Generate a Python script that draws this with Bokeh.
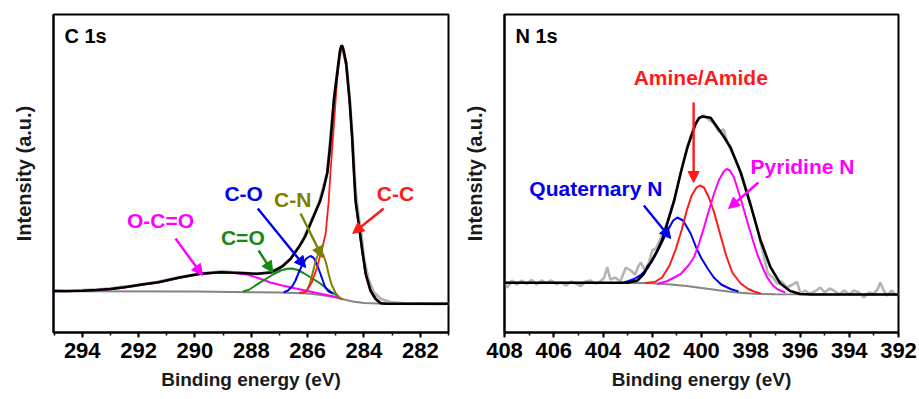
from bokeh.plotting import figure
from bokeh.layouts import row
from bokeh.models import Range1d, SingleIntervalTicker, FixedTicker, Label, Arrow, NormalHead
from bokeh.embed import file_html
from bokeh.resources import INLINE

# ---------------- C 1s data (binding energy eV, intensity a.u.) ----------------
c1s_raw_x = [295.0, 294.6, 294.2, 293.8, 293.4, 293.0, 292.6, 292.2, 291.8, 291.4, 291.0, 290.6,
             290.2, 289.8, 289.4, 289.0, 288.6, 288.2, 287.8, 287.4, 287.0, 286.6, 286.2, 285.9,
             285.6, 285.3, 285.07, 284.93, 284.8, 284.63, 284.51, 284.42, 284.3, 284.2, 284.1,
             284.0, 283.84, 283.66, 283.41, 283.06, 282.47, 282.0, 281.5, 281.0]
c1s_raw_y = [42, 41, 42, 42.5, 43, 44, 45.5, 46.5, 48.5, 50, 52.5, 55,
             57, 59, 60, 61, 60, 59.5, 58.5, 60, 64, 74, 90, 110,
             129, 160, 232, 264, 287, 269, 234, 199, 142, 117, 99,
             74, 53, 40.5, 33.7, 30.3, 28.7, 29, 28.5, 28.7]

c1s_bg_x = [295.0, 290.0, 288.0, 287.0, 286.0, 285.5, 285.0, 284.7, 284.4, 284.0, 283.5, 281.0]
c1s_bg_y = [41.3, 41, 40.3, 40, 39, 37.5, 35, 33, 31, 29.5, 29, 28.7]

c1s_env_x = [295.0, 294.0, 293.5, 293.0, 292.5, 292.0, 291.3, 290.5, 289.8, 289.1, 288.4, 287.8,
             287.3, 286.9, 286.6, 286.3, 286.1, 285.85, 285.55, 285.43, 285.3, 285.2, 285.07,
             284.93, 284.85, 284.8, 284.76, 284.72, 284.63, 284.51, 284.42, 284.36, 284.3, 284.19,
             284.06, 283.94, 283.77, 283.59, 283.41, 283.2, 281.0]
c1s_env_y = [41.5, 41.7, 42.5, 43.5, 45.3, 47.5, 50.3, 55.3, 58.7, 60.3, 59.5, 58.7,
             60, 66, 73.7, 86, 95.3, 112, 132, 144, 160, 187, 232,
             264, 282, 287, 286, 282, 269, 232, 195, 162, 132, 109,
             82, 59, 42, 33.7, 29.3, 28.7, 28.7]

cc_x = [286.3, 286.07, 285.85, 285.67, 285.5, 285.36, 285.25, 285.19, 285.07, 284.95, 284.87,
        284.8, 284.72, 284.63, 284.51, 284.42, 284.36, 284.3, 284.19, 284.06, 283.94, 283.77,
        283.59, 283.41, 283.2]
cc_y = [39.5, 40.5, 50, 65, 82, 99, 132, 160, 207, 254, 277,
        285, 279, 266, 230, 194, 162, 132, 107, 80, 57, 41,
        33, 29.3, 28.7]

cn_x = [286.1, 286.0, 285.9, 285.8, 285.7, 285.6, 285.55, 285.45, 285.35, 285.25, 285.15, 285.0, 284.85, 284.75]
cn_y = [40, 43, 51, 62, 73, 80, 81, 78, 70, 58, 48, 39, 34.5, 33]

co_x = [286.85, 286.7, 286.55, 286.43, 286.3, 286.2, 286.05, 285.9, 285.8, 285.73, 285.64, 285.55,
        285.45, 285.37, 285.25, 285.1]
co_y = [40, 42, 46, 52, 61, 67, 74, 76.5, 75, 72, 66, 59, 51, 45, 41, 39]

cdo_x = [288.3, 288.1, 287.9, 287.67, 287.4, 287.2, 286.95, 286.72, 286.55, 286.35, 286.15, 286.0,
         285.8, 285.55, 285.3, 285.08, 284.9]
cdo_y = [41, 42.5, 46, 50.3, 55, 58.5, 62, 63.7, 64, 62.5, 59.5, 57, 53.5, 49, 43.5, 39, 36]

oco_x = [295.0, 294.0, 293.0, 292.5, 292.0, 291.3, 290.5, 289.8, 289.1, 288.6, 288.15, 287.7,
         287.32, 286.9, 286.5, 286.0, 285.5, 285.07, 284.8]
oco_y = [41.3, 41.5, 43.2, 45, 47.2, 50, 55, 58.4, 60, 59.5, 58, 54, 50, 47, 44.5, 41.5, 38.5, 36, 34]

# ---------------- N 1s data ----------------
n1s_raw_x = [408.0, 407.88, 407.7, 407.5, 407.3, 407.1, 406.9, 406.7, 406.5, 406.3, 406.1, 405.9,
             405.7, 405.5, 405.3, 405.1, 404.9, 404.7, 404.5, 404.3, 404.1, 403.95, 403.83, 403.7,
             403.5, 403.3, 403.07, 402.87, 402.7, 402.55, 402.46, 402.3, 402.15, 402.0, 401.85,
             401.7, 401.5, 401.3, 401.1, 400.9, 400.7, 400.5, 400.3, 400.1, 399.9, 399.7, 399.5,
             399.3, 399.1, 398.95, 398.8, 398.6, 398.4, 398.2, 398.0, 397.8, 397.6, 397.45, 397.3,
             397.1, 396.93, 396.75, 396.52, 396.3, 396.12, 395.98, 395.8, 395.6, 395.4, 395.17,
             395.0, 394.8, 394.63, 394.4, 394.2, 394.0, 393.82, 393.6, 393.42, 393.2, 393.0,
             392.85, 392.74, 392.6, 392.47, 392.27, 392.1, 392.0]
n1s_raw_y = [49, 45, 52, 48, 52, 48.5, 52.5, 48, 52, 49.5, 52, 48.5,
             50, 47, 51, 49, 46.5, 51, 52, 49, 51, 55, 65.3, 53,
             55, 51, 65, 62, 58, 67, 70, 62, 69, 82, 84,
             92, 102, 117, 133, 154, 174, 192, 206, 214, 217, 213, 209,
             201, 203, 190, 182, 172, 160, 144, 127, 110, 90, 74, 59,
             55, 49, 51, 45, 48, 50.5, 39, 42, 39, 41, 45,
             40, 44, 42, 38, 42, 38, 42, 40, 35, 40, 39,
             43, 50, 42, 37, 42, 37, 39]

n1s_bg_x = [408.0, 402.5, 402.0, 401.25, 400.6, 400.0, 399.3, 398.68, 397.87, 397.0, 392.0]
n1s_bg_y = [49.7, 49.6, 49.2, 48, 46.5, 44.5, 42.2, 40.3, 38.7, 38.2, 38]

n1s_env_x = [408.0, 403.0, 402.6, 402.33, 402.19, 402.06, 401.79, 401.59, 401.11, 400.84, 400.57,
             400.24, 400.1, 399.96, 399.63, 399.36, 399.1, 398.82, 398.41, 398.0, 397.6, 397.2,
             396.8, 396.4, 396.0, 395.5, 392.0]
n1s_env_y = [49.7, 49.7, 52, 59, 66, 70, 82, 93, 132, 160, 185.3,
             208.7, 214.5, 216, 214.7, 205.3, 196, 185, 160, 127, 92, 65.3,
             49, 41.5, 38.5, 38, 38]

amine_x = [402.3, 401.9, 401.6, 401.3, 401.05, 400.8, 400.6, 400.4, 400.2, 400.07, 399.9, 399.7,
           399.5, 399.25, 399.0, 398.75, 398.41, 398.1, 397.87, 397.6]
amine_y = [49.5, 50.5, 55, 67, 83, 103, 122, 137, 145, 147, 145, 135,
           121, 99, 77, 60, 49, 43.5, 41, 39]

quat_x = [403.2, 402.73, 402.45, 402.19, 401.9, 401.65, 401.4, 401.15, 400.98, 400.75, 400.44,
          400.2, 400.0, 399.75, 399.5, 399.2, 398.82, 398.5]
quat_y = [49.5, 53.5, 58, 64, 76, 88, 101, 112, 115, 112, 99,
          84, 74, 64, 55, 48, 43.5, 41]

pyr_x = [401.8, 401.38, 400.84, 400.5, 400.3, 400.1, 399.9, 399.7, 399.5, 399.3, 399.1, 398.98,
         398.85, 398.68, 398.41, 398.2, 398.07, 397.9, 397.74, 397.5, 397.33, 397.1, 396.9, 396.6]
pyr_y = [48.5, 51.5, 58.5, 68, 75.5, 89, 105, 122, 138, 152, 161, 163.5,
         162, 155, 134, 116, 105, 91, 78.5, 64, 55, 47, 43, 40]

FONT = "Liberation Sans"
RED = "#ff1a1a"
OLIVE = "#808000"
BLUE = "#0000ee"
GREEN = "#138a13"
MAGENTA = "#ff00ff"
RAW = "#b4b4b4"
BG = "#858585"


def make_panel(xr, border_left, border_right, title):
    p = figure(width=border_left + 395 + border_right, height=399,
               x_range=Range1d(*xr), y_range=Range1d(0, 318),
               output_backend="svg", toolbar_location=None,
               min_border_left=border_left, min_border_right=border_right,
               min_border_top=14, min_border_bottom=67)
    p.grid.visible = False
    p.outline_line_color = "black"
    p.outline_line_width = 2
    p.background_fill_color = "white"
    p.border_fill_color = "white"

    xa = p.xaxis[0]
    xa.ticker = SingleIntervalTicker(interval=2, num_minor_ticks=2)
    xa.axis_line_width = 2
    xa.major_tick_line_width = 2
    xa.minor_tick_line_width = 1.5
    xa.major_tick_in = 0
    xa.major_tick_out = 5
    xa.minor_tick_in = 0
    xa.minor_tick_out = 3
    xa.major_label_text_font = FONT
    xa.major_label_text_font_style = "bold"
    xa.major_label_text_font_size = "22px"
    xa.major_label_text_color = "black"
    xa.major_label_standoff = 5
    xa.axis_label = "Binding energy (eV)"
    xa.axis_label_text_font = FONT
    xa.axis_label_text_font_style = "bold"
    xa.axis_label_text_font_size = "19px"
    xa.axis_label_text_color = "#1a1a1a"
    xa.axis_label_standoff = 8

    ya = p.yaxis[0]
    ya.ticker = FixedTicker(ticks=[])
    ya.axis_line_width = 2
    ya.major_tick_line_color = None
    ya.minor_tick_line_color = None
    ya.major_label_text_font_size = "0px"
    ya.axis_label = "Intensity (a.u.)"
    ya.axis_label_text_font = FONT
    ya.axis_label_text_font_style = "bold"
    ya.axis_label_text_font_size = "20px"
    ya.axis_label_text_color = "#1a1a1a"
    ya.axis_label_standoff = 19

    p.add_layout(Label(x=xr[0], y=297, x_offset=11, text=title, text_font=FONT,
                       text_font_style="bold", text_font_size="20px",
                       text_color="black", text_baseline="middle", text_align="left"))
    return p


def add_note(p, text, color, tx, ty, xs, ys, xe, ye):
    p.add_layout(Label(x=tx, y=ty, text=text, text_font=FONT, text_font_style="bold",
                       text_font_size="21px", text_color=color,
                       text_align="center", text_baseline="middle"))
    p.add_layout(Arrow(end=NormalHead(size=11, fill_color=color, line_color=color, line_width=1),
                       x_start=xs, y_start=ys, x_end=xe, y_end=ye,
                       line_color=color, line_width=2.4))


# ---------------- left panel ----------------
p1 = make_panel((295.02, 281.0), 53, 12, "C 1s")
p1.line(c1s_raw_x, c1s_raw_y, line_color=RAW, line_width=3)
p1.line(c1s_bg_x, c1s_bg_y, line_color=BG, line_width=2)
p1.line(oco_x, oco_y, line_color=MAGENTA, line_width=2)
p1.line(cdo_x, cdo_y, line_color=GREEN, line_width=2)
p1.line(co_x, co_y, line_color=BLUE, line_width=2)
p1.line(cn_x, cn_y, line_color=OLIVE, line_width=2)
p1.line(cc_x, cc_y, line_color=RED, line_width=1.8)
p1.line(c1s_env_x, c1s_env_y, line_color="black", line_width=2.6)

add_note(p1, "C-C", RED, 282.88, 139, 283.3, 124, 284.4, 99)
add_note(p1, "C-N", OLIVE, 286.53, 133, 286.25, 119, 285.47, 75)
add_note(p1, "C-O", BLUE, 288.27, 139, 287.77, 124, 286.07, 65)
add_note(p1, "C=O", GREEN, 288.3, 95, 287.74, 82, 287.24, 60)
add_note(p1, "O-C=O", MAGENTA, 291.22, 112, 290.69, 94, 289.73, 57)

# ---------------- right panel ----------------
p2 = make_panel((408.0, 392.0), 43, 21, "N 1s")
p2.line(n1s_raw_x, n1s_raw_y, line_color=RAW, line_width=2.6)
p2.line(n1s_bg_x, n1s_bg_y, line_color=BG, line_width=2)
p2.line(quat_x, quat_y, line_color=BLUE, line_width=2)
p2.line(amine_x, amine_y, line_color=RED, line_width=2)
p2.line(pyr_x, pyr_y, line_color=MAGENTA, line_width=2)
p2.line(n1s_env_x, n1s_env_y, line_color="black", line_width=2.6)

add_note(p2, "Amine/Amide", RED, 400.03, 255, 400.32, 230, 400.32, 150)
add_note(p2, "Pyridine N", MAGENTA, 395.9, 166, 397.69, 150, 398.9, 124)
add_note(p2, "Quaternary N", BLUE, 404.29, 144, 402.34, 127, 401.25, 94)

layout = row(p1, p2)
open("out.html", "w").write(file_html(layout, INLINE))
